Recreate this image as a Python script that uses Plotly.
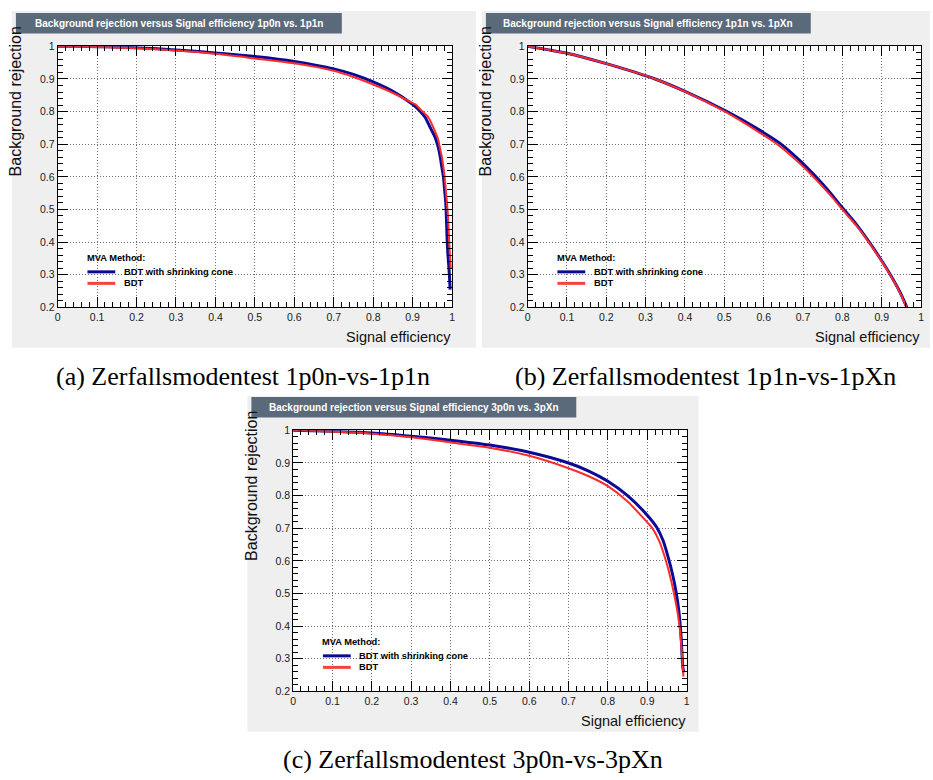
import plotly.graph_objects as go

W, H = 933, 780

# ---------------- data: ROC curves (signal efficiency vs background rejection) ----------------
# (a) 1p0n vs. 1p1n
a_cone_eff = [0, 0.05, 0.1, 0.15, 0.2, 0.3, 0.4, 0.5, 0.6, 0.7, 0.75, 0.8, 0.85, 0.9, 0.92,
              0.932, 0.945, 0.957, 0.965, 0.970, 0.974, 0.978, 0.981, 0.984, 0.986, 0.987,
              0.989, 0.992, 0.994, 0.995]
a_cone_rej = [1.0, 1.0, 0.999, 0.998, 0.996, 0.989, 0.980, 0.969, 0.954, 0.931, 0.914, 0.891,
              0.862, 0.822, 0.800, 0.782, 0.750, 0.721, 0.690, 0.661, 0.630, 0.600, 0.560,
              0.520, 0.460, 0.420, 0.370, 0.320, 0.280, 0.254]
a_bdt_eff = [0, 0.05, 0.1, 0.15, 0.2, 0.3, 0.4, 0.5, 0.6, 0.7, 0.75, 0.8, 0.85, 0.9, 0.907,
             0.92, 0.94, 0.952, 0.963, 0.969, 0.974, 0.978, 0.981, 0.984, 0.987, 0.990,
             0.992, 0.994, 0.996, 0.997]
a_bdt_rej = [1.0, 0.999, 0.998, 0.996, 0.994, 0.987, 0.977, 0.963, 0.948, 0.925, 0.906, 0.883,
             0.857, 0.826, 0.822, 0.806, 0.782, 0.752, 0.721, 0.690, 0.661, 0.630, 0.600,
             0.560, 0.520, 0.470, 0.420, 0.370, 0.330, 0.318]

# (b) 1p1n vs. 1pXn
b_cone_eff = [0, 0.05, 0.1, 0.2, 0.324, 0.4, 0.503, 0.58, 0.64, 0.69, 0.728, 0.77, 0.80,
              0.835, 0.867, 0.895, 0.922, 0.945, 0.964]
b_cone_rej = [1.0, 0.990, 0.979, 0.947, 0.900, 0.862, 0.802, 0.750, 0.704, 0.652, 0.606, 0.550,
              0.505, 0.455, 0.402, 0.352, 0.300, 0.250, 0.200]
b_bdt_eff = [0, 0.05, 0.1, 0.2, 0.324, 0.4, 0.503, 0.58, 0.64, 0.69, 0.728, 0.77, 0.80,
             0.835, 0.867, 0.895, 0.922, 0.945, 0.963]
b_bdt_rej = [1.0, 0.990, 0.979, 0.947, 0.900, 0.861, 0.799, 0.743, 0.695, 0.643, 0.598, 0.543,
             0.500, 0.451, 0.400, 0.350, 0.298, 0.248, 0.200]

# (c) 3p0n vs. 3pXn
c_cone_eff = [0, 0.05, 0.1, 0.2, 0.3, 0.4, 0.5, 0.6, 0.7, 0.75, 0.8, 0.85, 0.9, 0.924, 0.94,
              0.953, 0.965, 0.974, 0.980, 0.984, 0.987, 0.989, 0.991, 0.993]
c_cone_rej = [1.0, 0.999, 0.997, 0.992, 0.982, 0.970, 0.955, 0.933, 0.900, 0.876, 0.844, 0.800,
              0.740, 0.703, 0.663, 0.612, 0.555, 0.500, 0.450, 0.400, 0.350, 0.300, 0.270, 0.258]
c_bdt_eff = [0, 0.05, 0.1, 0.2, 0.3, 0.4, 0.5, 0.6, 0.7, 0.75, 0.8, 0.85, 0.9, 0.912, 0.93,
             0.945, 0.958, 0.968, 0.976, 0.982, 0.986, 0.989, 0.991, 0.992]
c_bdt_rej = [1.0, 0.999, 0.996, 0.990, 0.979, 0.963, 0.947, 0.922, 0.884, 0.860, 0.829, 0.782,
             0.718, 0.702, 0.662, 0.610, 0.553, 0.500, 0.450, 0.400, 0.350, 0.300, 0.265, 0.245]

titles = ["Background rejection versus Signal efficiency 1p0n vs. 1p1n",
          "Background rejection versus Signal efficiency 1p1n vs. 1pXn",
          "Background rejection versus Signal efficiency 3p0n vs. 3pXn"]
captions = ["(a) Zerfallsmodentest 1p0n-vs-1p1n",
            "(b) Zerfallsmodentest 1p1n-vs-1pXn",
            "(c) Zerfallsmodentest 3p0n-vs-3pXn"]
legend_title = "MVA Method:"
series_names = ["BDT with shrinking cone", "BDT"]
x_title = "Signal efficiency"
y_title = "Background rejection"

curves = [
    (a_cone_eff, a_cone_rej, a_bdt_eff, a_bdt_rej),
    (b_cone_eff, b_cone_rej, b_bdt_eff, b_bdt_rej),
    (c_cone_eff, c_cone_rej, c_bdt_eff, c_bdt_rej),
]

# ---------------- styling / geometry (pixels) ----------------
BLUE = "#0a0a96"
RED = "#ff2b2b"
PANEL_BG = "#efefef"
TITLE_BG = "#5b6a7b"
SANS = "Liberation Sans"
SERIF = "Liberation Serif"

# pad frame (x0, y0, x1, y1), plot frame (x0, y0, x1, y1), title box (x0, y0, x1, y1)
panels = [
    dict(pad=(9, 5, 476, 347), plot=(55, 41, 452, 306), tbox=(13, 7, 341, 28),
         caption=(242, 376)),
    dict(pad=(482, 5, 933, 347), plot=(528, 41, 924, 306), tbox=(486, 7, 813, 28),
         caption=(707, 376)),
    dict(pad=(246, 396, 700, 737), plot=(292, 431, 688, 696), tbox=(250, 397, 577, 418),
         caption=(473, 765)),
]


def px(x):
    return x / W


def py(y):
    return 1 - y / H


fig = go.Figure()
shapes = []
annotations = []

for i, (p, crv) in enumerate(zip(panels, curves)):
    sfx = "" if i == 0 else str(i + 1)
    xref, yref = "x" + sfx, "y" + sfx
    ce, cr, be, br = crv

    fig.add_trace(go.Scatter(x=ce, y=cr, mode="lines", name=series_names[0],
                             line=dict(color=BLUE, width=3, shape="spline", smoothing=0.8),
                             xaxis=xref, yaxis=yref, showlegend=False, hoverinfo="skip"))
    fig.add_trace(go.Scatter(x=be, y=br, mode="lines", name=series_names[1],
                             line=dict(color=RED, width=2, shape="spline", smoothing=0.8),
                             xaxis=xref, yaxis=yref, showlegend=False, hoverinfo="skip"))

    x0, y0, x1, y1 = p["plot"]
    axis_common = dict(
        ticks="inside", ticklen=10, tickwidth=1, tickcolor="black",
        showline=True, linecolor="black", linewidth=1, mirror="allticks",
        showgrid=True, gridcolor="#707070", griddash="1px,2px", gridwidth=1,
        zeroline=False, fixedrange=True,
        tickfont=dict(family=SANS, size=10.5, color="#1a1a1a"),
        minor=dict(dtick=0.02, ticks="inside", ticklen=5, tickcolor="black",
                   tickwidth=1, showgrid=False),
    )
    fig.layout["xaxis" + sfx] = dict(axis_common, range=[0, 1], dtick=0.1, tick0=0,
                                     domain=[px(x0), px(x1)], anchor=yref)
    fig.layout["yaxis" + sfx] = dict(axis_common, range=[0.2, 1], dtick=0.1, tick0=0,
                                     domain=[py(y1), py(y0)], anchor=xref)

    # grey pad, white frame
    pad = p["pad"]
    shapes.append(dict(type="rect", xref="paper", yref="paper", layer="below",
                       x0=px(pad[0]), x1=px(pad[2]), y0=py(pad[3]), y1=py(pad[1]),
                       fillcolor=PANEL_BG, line=dict(width=0)))
    shapes.append(dict(type="rect", xref="paper", yref="paper", layer="below",
                       x0=px(x0), x1=px(x1), y0=py(y1), y1=py(y0),
                       fillcolor="white", line=dict(width=0)))

    # title box
    tb = p["tbox"]
    shapes.append(dict(type="rect", xref="paper", yref="paper", layer="above",
                       x0=px(tb[0]), x1=px(tb[2]), y0=py(tb[3]), y1=py(tb[1]),
                       fillcolor=TITLE_BG, line=dict(width=0)))
    annotations.append(dict(xref="paper", yref="paper", x=px((tb[0] + tb[2]) / 2),
                            y=py((tb[1] + tb[3]) / 2), text=titles[i], showarrow=False,
                            xanchor="center", yanchor="middle",
                            font=dict(family=SANS, size=10, color="white", weight="bold")))

    # axis titles
    annotations.append(dict(xref="paper", yref="paper", x=px(x1 + 1), y=py(y1 + 30),
                            text=x_title, showarrow=False, xanchor="right",
                            yanchor="middle",
                            font=dict(family=SANS, size=14.5, color="#111111")))
    annotations.append(dict(xref="paper", yref="paper", x=px(pad[0] + 4),
                            y=py(y0 + 56), text=y_title, showarrow=False,
                            textangle=-90, xanchor="center", yanchor="middle",
                            font=dict(family=SANS, size=16, color="#111111")))

    # legend block
    lx, ly = x0, y0
    annotations.append(dict(xref="paper", yref="paper", x=px(lx + 27.5), y=py(ly + 215),
                            text=legend_title, showarrow=False, xanchor="left",
                            yanchor="middle",
                            font=dict(family=SANS, size=9.3, color="black", weight="bold")))
    for k, (name, col) in enumerate(zip(series_names, [BLUE, "#ff4040"])):
        yy = ly + 229 + k * 11.7
        shapes.append(dict(type="line", xref="paper", yref="paper",
                           x0=px(lx + 30), x1=px(lx + 58), y0=py(yy), y1=py(yy),
                           line=dict(color=col, width=3)))
        annotations.append(dict(xref="paper", yref="paper", x=px(lx + 64.5), y=py(yy),
                                text=name, showarrow=False, xanchor="left",
                                yanchor="middle",
                                font=dict(family=SANS, size=9.3, color="black",
                                          weight="bold")))

    # caption
    cx, cy = p["caption"]
    annotations.append(dict(xref="paper", yref="paper", x=px(cx), y=py(cy),
                            text=captions[i], showarrow=False, xanchor="center",
                            yanchor="middle",
                            font=dict(family=SERIF, size=26, color="black")))

fig.update_layout(
    width=W, height=H,
    margin=dict(l=0, r=0, t=0, b=0),
    paper_bgcolor="white", plot_bgcolor="white",
    shapes=shapes, annotations=annotations,
    showlegend=False,
)

fig.write_html("out.html", config={"displayModeBar": False})
